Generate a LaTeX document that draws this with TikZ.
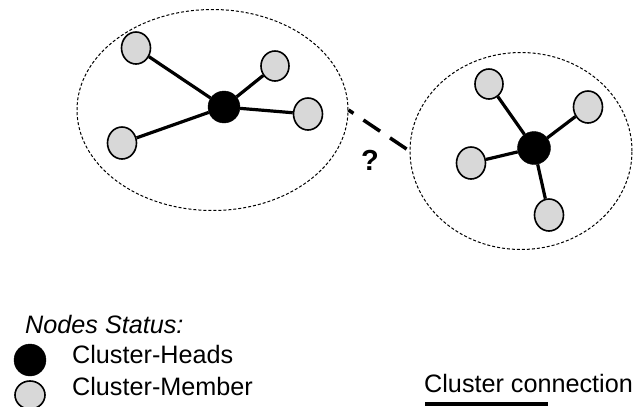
\documentclass[tikz,border=0pt]{standalone}
\usepackage{fontspec}
\setmainfont{Liberation Sans}
\usetikzlibrary{shapes.geometric}
\definecolor{memfill}{HTML}{D8D8D8}
\tikzset{
  cluster/.style={ellipse, draw=black, line width=1pt, dash pattern=on 3pt off 2pt, inner sep=0pt},
  member/.style={ellipse, draw=black, line width=1.6pt, fill=memfill, minimum width=29pt, minimum height=32pt, inner sep=0pt},
  head/.style={circle, fill=black, draw=black, minimum size=32pt, inner sep=0pt},
  link/.style={line width=3.2pt},
  conn/.style={line width=3.5pt, dash pattern=on 20pt off 12pt, dash phase=14pt},
  lbl/.style={anchor=base west, inner sep=0pt, font=\fontsize{25.2}{28}\selectfont}
}
\begin{document}
\begin{tikzpicture}[x=1pt,y=-1pt]
\useasboundingbox (0,0) rectangle (633,407);
% clusters
\node[cluster, minimum width=271pt, minimum height=201pt] (L) at (212.5,110) {};
\node[cluster, minimum width=222pt, minimum height=197pt] (R) at (521,151) {};
% left cluster
\node[head] (h1) at (224,107) {};
\node[member] (a1) at (136,48) {};
\node[member, minimum width=28pt, minimum height=30pt] (a2) at (275,66) {};
\node[member] (a3) at (308,114) {};
\node[member] (a4) at (122,143) {};
\foreach \m in {a1,a2,a3,a4} \draw[link] (h1) -- (\m);
% right cluster
\node[head, minimum size=33pt] (h2) at (534,148) {};
\node[member, minimum width=28pt, minimum height=30pt] (b1) at (489,84) {};
\node[member] (b2) at (588,107) {};
\node[member] (b3) at (471,163) {};
\node[member] (b4) at (549,215) {};
\foreach \m in {b1,b2,b3,b4} \draw[link] (h2) -- (\m);
% connection between clusters
\draw[conn] (L.east) -- (R.west);
\node[font=\fontsize{29}{30}\selectfont\bfseries, inner sep=0pt] (q) at (370,160) {?};
% legend
\node[lbl, font=\fontsize{25.2}{28}\selectfont\itshape] (ns) at (25,333) {Nodes Status:};
\node[head] (lh) at (30,360) {};
\node[lbl] (lht) at (72,363) {Cluster-Heads};
\node[member, minimum width=30pt, minimum height=28pt] (lm) at (30,395) {};
\node[lbl] (lmt) at (72,395) {Cluster-Member};
\node[lbl] (lct) at (424,392) {Cluster connection};
\coordinate (c1) at (425,404);
\coordinate (c2) at (548,404);
\draw[line width=4pt] (c1) -- (c2);
\end{tikzpicture}
\end{document}
